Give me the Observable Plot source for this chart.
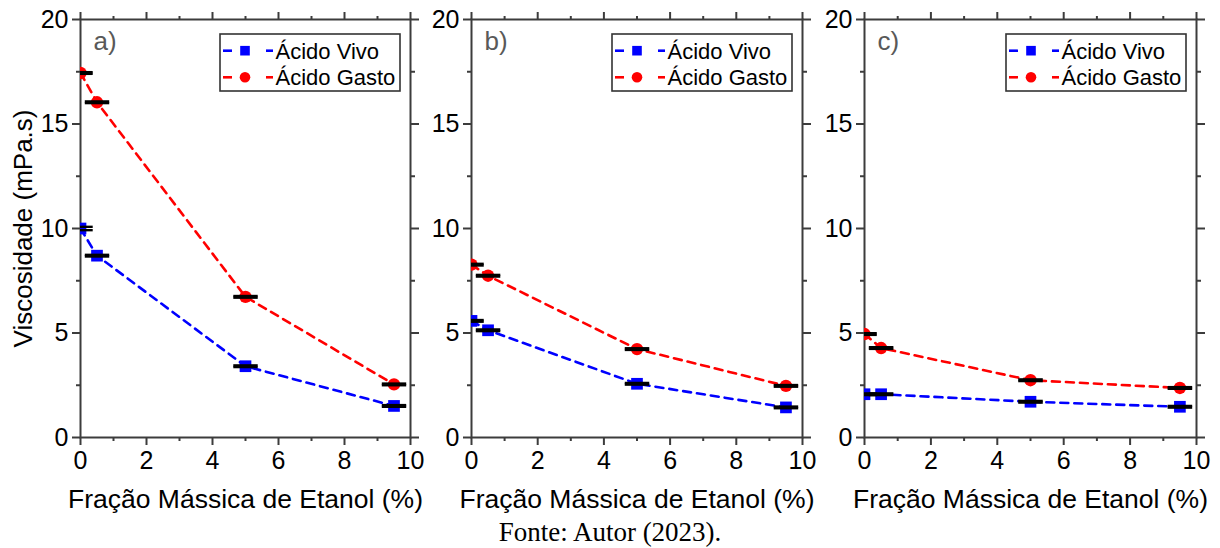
<!DOCTYPE html>
<html>
<head>
<meta charset="utf-8">
<script src="https://cdn.jsdelivr.net/npm/d3@7"></script>
<script src="https://cdn.jsdelivr.net/npm/@observablehq/plot@0.6"></script>
<style>
  body { margin: 0; background: #fff; }
  #wrap { position: relative; width: 1220px; height: 548px; overflow: hidden; background: #fff;
          font-family: "Liberation Sans", Arial, sans-serif; }
  .panel { position: absolute; top: 0; }
  #caption { position: absolute; left: 0; width: 1220px; top: 519px; text-align: center;
             font-family: "Liberation Serif", "Times New Roman", serif; font-size: 27px; line-height: 27px; color: #000; }
</style>
</head>
<body>
<div id="wrap"><div id="caption">Fonte: Autor (2023).</div></div>
<script>
// ---- data ----
const fracaoEtanol = [0, 0.5, 5, 9.5];           // x (%)
const panelLabels = ["a)", "b)", "c)"];
const seriesNames = ["Ácido Vivo", "Ácido Gasto"];
const seriesColors = ["#0000ff", "#ff0000"];

const vivoA  = [10.0, 8.70, 3.41, 1.51];
const gastoA = [17.44, 16.04, 6.73, 2.54];
const vivoB  = [5.58, 5.13, 2.57, 1.44];
const gastoB = [8.27, 7.74, 4.23, 2.47];
const vivoC  = [2.07, 2.07, 1.71, 1.47];
const gastoC = [4.95, 4.28, 2.74, 2.37];

const errVivoA  = [0.08, 0.04, 0.04, 0.04];
const errGastoA = [0.04, 0.04, 0.04, 0.04];
const errVivoB  = [0.04, 0.04, 0.04, 0.04];
const errGastoB = [0.04, 0.04, 0.04, 0.04];
const errVivoC  = [0.04, 0.04, 0.04, 0.04];
const errGastoC = [0.04, 0.04, 0.04, 0.04];

const xTicks = [0, 2, 4, 6, 8, 10];
const xMinorTicks = [1, 3, 5, 7, 9];
const yTicks = [0, 5, 10, 15, 20];
const yMinorTicks = [2.5, 7.5, 12.5, 17.5];
const xLabel = "Fração Mássica de Etanol (%)";
const yLabel = "Viscosidade (mPa.s)";

// ---- layout ----
const panelDefs = [
  {left: 0,   width: 430, marginLeft: 80, vivo: vivoA, gasto: gastoA, ev: errVivoA, eg: errGastoA, showYLabel: true},
  {left: 430, width: 392, marginLeft: 41, vivo: vivoB, gasto: gastoB, ev: errVivoB, eg: errGastoB, showYLabel: false},
  {left: 822, width: 394, marginLeft: 42, vivo: vivoC, gasto: gastoC, ev: errVivoC, eg: errGastoC, showYLabel: false}
];
const H = 520, MT = 19, MB = 83, MR = 20;
const axisColor = "#3c3c3c";
const capHalf = 0.37;
const font = "'Liberation Sans', Arial, sans-serif";

const wrap = document.getElementById("wrap");

panelDefs.forEach((p, i) => {
  const rows = (vals, errs, s) => fracaoEtanol.map((x, k) => ({x, y: vals[k], e: errs[k], s}));
  const vivoRows = rows(p.vivo, p.ev, 0);
  const gastoRows = rows(p.gasto, p.eg, 1);
  const allRows = vivoRows.concat(gastoRows);

  const blank = () => "";
  const marks = [
    // bottom axis
    Plot.axisX(xTicks, {anchor: "bottom", tickSize: 8, tickPadding: 6, strokeWidth: 2, stroke: axisColor, fill: "#000",
      fontSize: 25, tickFormat: d => String(d), label: null}),
    Plot.axisX(xMinorTicks, {anchor: "bottom", tickSize: 4, strokeWidth: 2, stroke: axisColor, tickFormat: blank, label: null}),
    // top axis
    Plot.axisX(xTicks, {anchor: "top", tickSize: 8, strokeWidth: 2, stroke: axisColor, tickFormat: blank, label: null}),
    Plot.axisX(xMinorTicks, {anchor: "top", tickSize: 4, strokeWidth: 2, stroke: axisColor, tickFormat: blank, label: null}),
    // left axis
    Plot.axisY(yTicks, {anchor: "left", tickSize: 8, tickPadding: 4, strokeWidth: 2, stroke: axisColor, fill: "#000",
      fontSize: 25, tickFormat: d => String(d), label: null}),
    Plot.axisY(yMinorTicks, {anchor: "left", tickSize: 4, strokeWidth: 2, stroke: axisColor, tickFormat: blank, label: null}),
    // right axis
    Plot.axisY(yTicks, {anchor: "right", tickSize: 8, strokeWidth: 2, stroke: axisColor, tickFormat: blank, label: null}),
    Plot.axisY(yMinorTicks, {anchor: "right", tickSize: 4, strokeWidth: 2, stroke: axisColor, tickFormat: blank, label: null}),
    Plot.frame({stroke: axisColor, strokeWidth: 2}),
    // axis titles
    Plot.text([xLabel], {frameAnchor: "bottom", dy: 70, lineAnchor: "bottom", textAnchor: "middle", fontSize: 26.5, fill: "#000", text: d => d}),
    // data
    Plot.line(vivoRows, {x: "x", y: "y", stroke: seriesColors[0], strokeWidth: 2.6, strokeDasharray: "8,6", curve: "linear", clip: true}),
    Plot.line(gastoRows, {x: "x", y: "y", stroke: seriesColors[1], strokeWidth: 2.6, strokeDasharray: "8,6", curve: "linear", clip: true}),
    Plot.dot(vivoRows, {x: "x", y: "y", symbol: "square", r: 6.6, fill: seriesColors[0], stroke: "none", clip: true}),
    Plot.dot(gastoRows, {x: "x", y: "y", symbol: "circle", r: 6.2, fill: seriesColors[1], stroke: "none", clip: true}),
    // error bar caps
    Plot.link(allRows, {x1: d => d.x - capHalf, x2: d => d.x + capHalf, y1: d => d.y + d.e, y2: d => d.y + d.e,
      stroke: "#000", strokeWidth: 2.4, clip: true}),
    Plot.link(allRows, {x1: d => d.x - capHalf, x2: d => d.x + capHalf, y1: d => d.y - d.e, y2: d => d.y - d.e,
      stroke: "#000", strokeWidth: 2.4, clip: true}),
    // panel label
    Plot.text([panelLabels[i]], {frameAnchor: "top-left", dx: 13, dy: 12.5, lineAnchor: "top", textAnchor: "start",
      fontSize: 26, fill: "#595959", text: d => d})
  ];
  if (p.showYLabel) {
    marks.push(Plot.text([yLabel], {frameAnchor: "left", dx: -57, rotate: -90, lineAnchor: "middle", textAnchor: "middle",
      fontSize: 26, fill: "#000", text: d => d}));
  }
  const plot = Plot.plot({
    width: p.width, height: H,
    marginTop: MT, marginBottom: MB, marginLeft: p.marginLeft, marginRight: MR,
    x: {domain: [0, 10]},
    y: {domain: [0, 20]},
    style: {background: "transparent", overflow: "visible", fontFamily: font, color: "#000"},
    marks
  });
  plot.classList.add("panel");
  plot.style.left = p.left + "px";

  // legend
  const frameRight = p.width - MR;
  const g = d3.select(plot).append("g").attr("transform", `translate(${frameRight - 190},34)`);
  g.append("rect").attr("x", 0).attr("y", 0).attr("width", 180).attr("height", 57)
    .attr("fill", "#fff").attr("stroke", "#333").attr("stroke-width", 1.6);
  seriesNames.forEach((name, k) => {
    const cy = 16.7 + k * 26.6;
    const c = seriesColors[k];
    g.append("line").attr("x1", 3).attr("x2", 12).attr("y1", cy).attr("y2", cy).attr("stroke", c).attr("stroke-width", 2.6);
    g.append("line").attr("x1", 46).attr("x2", 53).attr("y1", cy).attr("y2", cy).attr("stroke", c).attr("stroke-width", 2.6);
    if (k === 0) g.append("rect").attr("x", 25 - 4.8).attr("y", cy - 4.8).attr("width", 9.6).attr("height", 9.6).attr("fill", c);
    else g.append("circle").attr("cx", 25).attr("cy", cy).attr("r", 5.3).attr("fill", c);
    g.append("text").attr("x", 55.5).attr("y", cy).attr("dy", "0.36em").attr("font-size", 22)
      .attr("text-anchor", "start").attr("font-family", font).attr("fill", "#000").text(name);
  });

  wrap.appendChild(plot);
});
</script>
</body>
</html>
